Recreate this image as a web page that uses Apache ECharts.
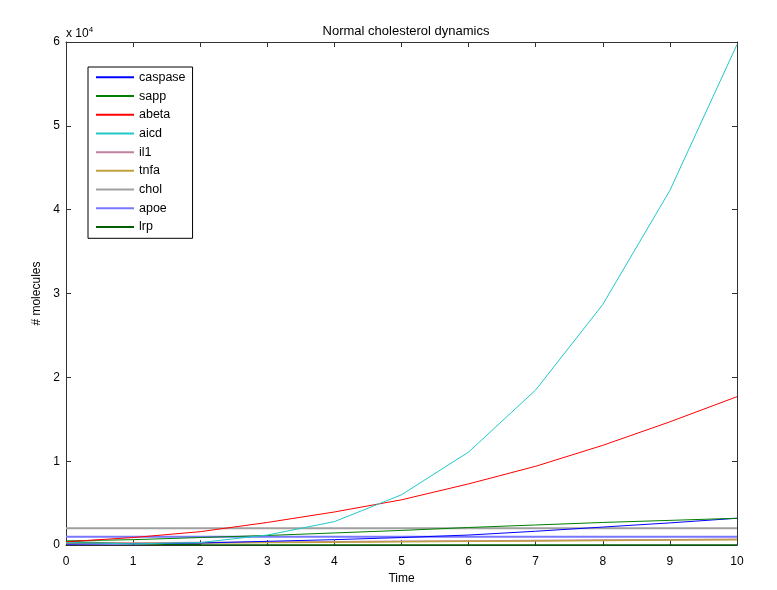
<!DOCTYPE html>
<html>
<head>
<meta charset="utf-8">
<script src="https://cdn.jsdelivr.net/npm/echarts@6/dist/echarts.min.js"></script>
<style>
    html, body { margin: 0; padding: 0; background: #fff; }
    #chart { width: 777px; height: 590px; }
</style>
</head>
<body>
<div id="chart"></div>
<script>
    // time points
    var time = [0, 1, 2, 3, 4, 5, 6, 7, 8, 9, 10];
    // series values
    var caspase = [100, 150, 250, 450, 650, 900, 1200, 1650, 2150, 2650, 3200];
    var sapp = [500, 650, 900, 1150, 1450, 1750, 2100, 2400, 2700, 2950, 3200];
    var abeta = [400, 900, 1600, 2700, 3950, 5400, 7300, 9400, 11900, 14700, 17700];
    var aicd = [300, 150, 300, 1200, 2800, 6000, 11100, 18500, 28700, 42300, 59700];
    var il1 = [200, 250, 300, 350, 400, 450, 500, 550, 600, 650, 700];
    var tnfa = [150, 200, 250, 300, 350, 400, 450, 500, 550, 600, 650];
    var chol = [2000, 2000, 2000, 2000, 2000, 2000, 2000, 2000, 2000, 2000, 2000];
    var apoe = [1000, 1000, 1000, 1000, 1000, 1000, 1000, 1000, 1000, 1000, 1000];
    var lrp = [400, 150, 50, 20, 10, 0, 0, 0, 0, 0, 0];
    // y tick labels (x 10^4)
    var yTicks = ['0', '1', '2', '3', '4', '5', '6'];

    var myChart = echarts.init(document.getElementById('chart'));

    var pairs = function (vals) {
        var out = [];
        for (var i = 0; i < time.length; i++) {
            out.push([time[i], vals[i]]);
        }
        return out;
    };

    var mkSeries = function (name, vals, color, width) {
        return {
            name: name,
            type: 'line',
            data: pairs(vals),
            symbol: 'none',
            showSymbol: false,
            color: color,
            lineStyle: {width: width || 1, color: color},
            emphasis: {disabled: true}
        };
    };

    var axisColor = '#333';
    var font = 'Liberation Sans, Arial, sans-serif';

    var option = {
        animation: false,
        backgroundColor: '#fff',
        title: {
            text: 'Normal cholesterol dynamics',
            left: 401,
            top: 20,
            textAlign: 'center',
            textStyle: {fontSize: 13, fontWeight: 'normal', color: '#000', fontFamily: font}
        },
        grid: {left: 66, right: 40, top: 42, bottom: 39, containLabel: false},
        legend: {
            orient: 'vertical',
            left: 88,
            top: 67,
            icon: 'rect',
            itemWidth: 38,
            itemHeight: 2,
            itemGap: 0,
            padding: [1, 7, 2, 8],
            borderColor: '#000',
            borderWidth: 1,
            backgroundColor: '#fff',
            textStyle: {fontSize: 12.5, color: '#000', fontFamily: font, lineHeight: 18.7},
            data: ['caspase', 'sapp', 'abeta', 'aicd', 'il1', 'tnfa', 'chol', 'apoe', 'lrp']
        },
        xAxis: [{
            type: 'value',
            min: 0,
            max: 10,
            interval: 1,
            name: 'Time',
            nameLocation: 'middle',
            nameGap: 27,
            nameTextStyle: {fontSize: 12, color: '#000', fontFamily: font},
            axisLine: {onZero: false, lineStyle: {color: axisColor, width: 1}},
            axisTick: {inside: true, length: 5, lineStyle: {color: axisColor}},
            axisLabel: {fontSize: 12, color: '#000', margin: 11, fontFamily: font},
            splitLine: {show: false}
        }, {
            type: 'value',
            position: 'top',
            min: 0,
            max: 10,
            interval: 1,
            axisLine: {onZero: false, lineStyle: {color: axisColor, width: 1}},
            axisTick: {inside: true, length: 5, lineStyle: {color: axisColor}},
            axisLabel: {show: false},
            splitLine: {show: false}
        }],
        yAxis: [{
            type: 'value',
            min: 0,
            max: 60000,
            interval: 10000,
            name: '# molecules',
            nameLocation: 'middle',
            nameGap: 13,
            nameTextStyle: {fontSize: 12, color: '#000', fontFamily: font},
            axisLine: {show: true, onZero: false, lineStyle: {color: axisColor, width: 1}},
            axisTick: {show: true, inside: true, length: 5, lineStyle: {color: axisColor}},
            axisLabel: {
                fontSize: 12, color: '#000', margin: 6, fontFamily: font,
                formatter: function (v) { return yTicks[Math.round(v / 10000)]; }
            },
            splitLine: {show: false}
        }, {
            type: 'value',
            position: 'right',
            min: 0,
            max: 60000,
            interval: 10000,
            axisLine: {show: true, onZero: false, lineStyle: {color: axisColor, width: 1}},
            axisTick: {show: true, inside: true, length: 5, lineStyle: {color: axisColor}},
            axisLabel: {show: false},
            splitLine: {show: false}
        }],
        graphic: [{
            type: 'text',
            left: 66,
            top: 22,
            style: {
                text: '{a|x 10}{b|4}',
                fontFamily: font,
                rich: {
                    a: {fontSize: 12, fill: '#000', fontFamily: font, verticalAlign: 'bottom', lineHeight: 14, padding: [6, 0, 0, 0]},
                    b: {fontSize: 8, fill: '#000', fontFamily: font, verticalAlign: 'top', lineHeight: 10}
                }
            }
        }],
        series: [
            mkSeries('chol', chol, '#a0a0a0', 2),
            mkSeries('apoe', apoe, '#7878ff', 2),
            mkSeries('lrp', lrp, '#006000', 1.5),
            mkSeries('il1', il1, '#c080a0', 1.5),
            mkSeries('tnfa', tnfa, '#c0a040', 1.5),
            mkSeries('caspase', caspase, '#0000ff', 1),
            mkSeries('sapp', sapp, '#008000', 1),
            mkSeries('abeta', abeta, '#ff0000', 1),
            mkSeries('aicd', aicd, '#20c8c8', 1)
        ]
    };
    myChart.setOption(option);
</script>
</body>
</html>
